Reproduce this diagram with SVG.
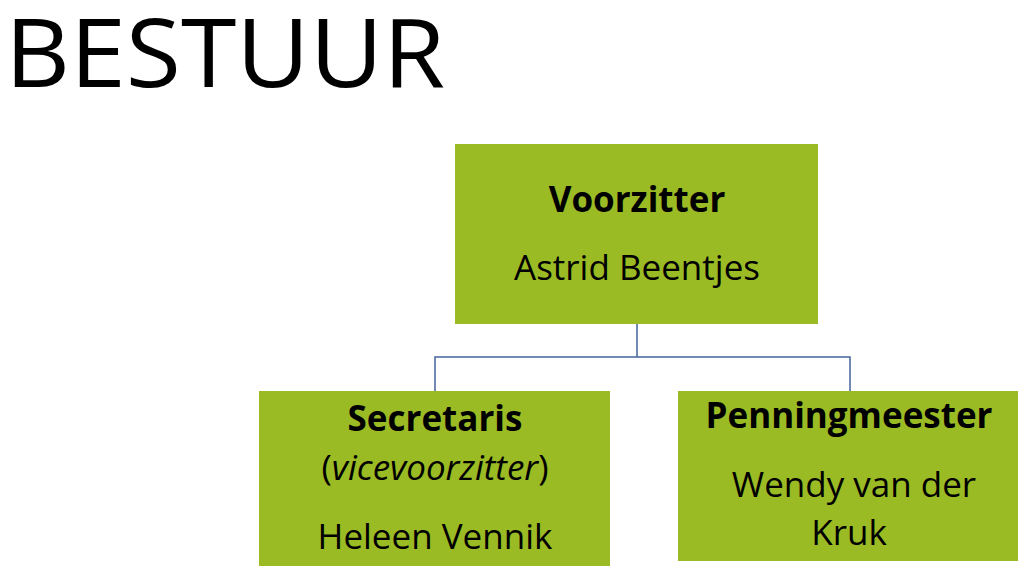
<svg xmlns="http://www.w3.org/2000/svg" width="1029" height="575" viewBox="0 0 1029 575">
<style>
.box{fill:#9BBB24}
.t{font-family:"Open Sans","Liberation Sans",sans-serif;font-size:35px;fill:#000;text-anchor:middle}
.b{font-weight:bold}
.c{stroke:#44649B;stroke-width:1.5;fill:none}
</style>
<rect width="1029" height="575" fill="#fff"/>
<text x="5" y="87" font-family="Open Sans, Liberation Sans, sans-serif" font-size="96" textLength="440" lengthAdjust="spacingAndGlyphs">BESTUUR</text>
<g id="connectors">
<path class="c" d="M637 324V357M435 391V357H850V391"/>
</g>
<g id="voorzitter">
<rect class="box" x="455" y="144" width="363" height="180"/>
<text class="t b" x="637" y="212">Voorzitter</text>
<text class="t" x="637" y="280">Astrid Beentjes</text>
</g>
<g id="secretaris">
<rect class="box" x="259" y="391" width="351" height="175"/>
<text class="t b" x="435" y="431">Secretaris</text>
<text class="t" x="435" y="480">(<tspan font-style="italic">vicevoorzitter</tspan>)</text>
<text class="t" x="435" y="549">Heleen Vennik</text>
</g>
<g id="penningmeester">
<rect class="box" x="678" y="391" width="340" height="170"/>
<text class="t b" x="849" y="428">Penningmeester</text>
<text class="t" x="854" y="497">Wendy van der</text>
<text class="t" x="849" y="545">Kruk</text>
</g>
</svg>
